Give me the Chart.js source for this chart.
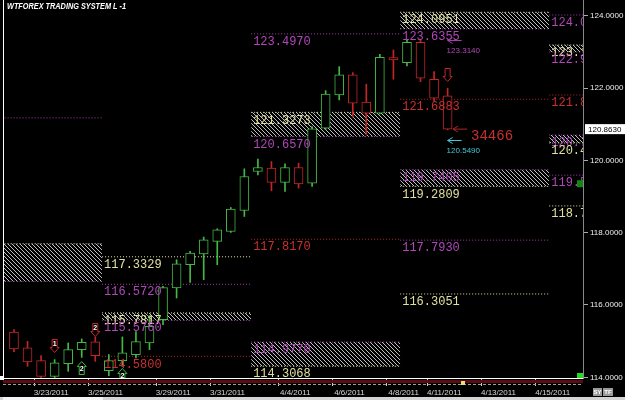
<!DOCTYPE html>
<html>
<head>
<meta charset="utf-8">
<script src="https://cdn.jsdelivr.net/npm/chart.js@4.4.1/dist/chart.umd.min.js"></script>
<style>
  html, body { margin: 0; padding: 0; background: #000; }
  #wrap { width: 625px; height: 400px; position: relative; overflow: hidden; }
</style>
</head>
<body>
<div id="wrap"><canvas id="chart" width="625" height="400"></canvas></div>
<script>
// candles, one slot per bar
const open  = [115.254,114.812,114.461,114.028,114.378,114.765,114.978,114.185,114.461,114.627,114.950,115.594,116.470,117.113,117.409,117.757,118.033,118.613,119.691,119.785,119.387,119.801,119.370,120.890,121.809,122.362,121.608,121.304,122.840,122.702,123.265,122.243,121.782];
const high  = [115.318,114.994,114.599,114.489,114.950,115.061,115.116,114.627,115.116,115.262,115.704,116.514,117.251,117.481,117.878,118.108,118.696,119.765,120.033,119.967,119.903,119.923,120.934,121.928,122.591,122.425,122.105,122.934,123.052,123.348,123.329,122.453,121.994];
const low   = [114.710,114.304,113.978,113.909,114.166,114.552,114.442,114.047,114.304,114.536,114.765,115.456,116.193,116.624,116.699,117.113,118.006,118.448,119.599,119.157,119.138,119.232,119.276,120.856,121.671,121.193,120.704,121.285,122.243,122.610,122.177,121.652,120.843];
const close = [114.785,114.425,114.028,114.398,114.765,114.967,114.599,114.461,114.674,114.986,115.409,116.478,117.141,117.436,117.804,118.080,118.652,119.552,119.801,119.387,119.801,119.351,120.870,121.829,122.362,121.580,121.304,122.851,122.776,123.265,122.271,121.718,120.863];

// date axis
const dateTicks  = [1.5, 5.5, 10.5, 14.5, 19.5, 23.5, 27.5, 30.5, 34.5, 38.5];
const dateLabels = ['3/23/2011','3/25/2011','3/29/2011','3/31/2011','4/4/2011','4/6/2011','4/8/2011','4/11/2011','4/13/2011','4/15/2011'];
const priceTicks = [114, 116, 118, 120, 122, 124];

// level periods (slot units)
const segStart = [-8, 6.5, 17.5, 28.5, 39.5];
const segEnd   = [6.5, 17.5, 28.5, 39.5, 44];

// single levels
const lineSeg   = [0, 1, 1, 1, 2, 2, 3, 3, 3, 4, 4, 4, 4];
const lineValue = [121.174, 117.3329, 116.572, 114.58, 123.497, 117.817, 121.6883, 117.793, 116.3051, 124.02, 121.807, 119.59, 118.74];
const lineKind  = ['p', 'y', 'p', 'r', 'p', 'r', 'r', 'p', 'y', 'p', 'r', 'p', 'y'];

// hatched zones
const zoneSeg       = [0, 1, 2, 2, 3, 3, 4, 4];
const zoneUpper     = [117.693, 115.7817, 121.3273, 114.977, 124.0951, 119.7405, 123.19, 120.70];
const zoneLower     = [116.652, 115.576, 120.657, 114.3068, 123.6355, 119.2809, 122.996, 120.48];
const zoneUpperKind = ['y', 'y', 'y', 'p', 'y', 'p', 'y', 'p'];
const zoneLowerKind = ['p', 'p', 'p', 'y', 'p', 'y', 'p', 'y'];

// signal arrows
const sigSlot  = [3, 6, 5, 8, 32];
const sigPrice = [114.866, 115.308, 114.257, 114.064, 122.36];
const sigUp    = [false, false, true, true, false];
const sigText  = ['1', '2', '2', '2', ''];

// pointer notes on the right
const ptrSlot  = [32, 32.4, 32];
const ptrPrice = [123.314, 120.863, 120.549];
const ptrText  = ['123.3140', '34466', '120.5490'];
const ptrKind  = ['p', 'r', 'c'];

const lineColor = { p: '#a040a8', y: '#e6e6a6', r: '#b02828', c: '#40c8d8' };
const textColor = { p: '#b048b8', y: '#e0e0a0', r: '#c83030', c: '#48c8d8' };
const GREEN = '#44b844', RED = '#c42626';
const lastClose = close[close.length - 1];

// hatch pattern
const pc = document.createElement('canvas');
pc.width = 4; pc.height = 4;
const pctx = pc.getContext('2d');
pctx.fillStyle = '#c0c0c0';
for (let i = 0; i < 4; i++) pctx.fillRect(i, i, 1, 1);
const hatch = pctx.createPattern(pc, 'repeat');

const candleColors = open.map((o, i) => close[i] >= o ? GREEN : RED);

let datasets = [];
lineValue.forEach((v, i) => {
    datasets.push({
        type: 'line',
        data: [{x: segStart[lineSeg[i]], y: v}, {x: segEnd[lineSeg[i]], y: v}],
        borderColor: lineColor[lineKind[i]], borderWidth: 1, borderDash: [1, 2],
        pointRadius: 0, fill: false, order: 5
    });
});
zoneUpper.forEach((u, i) => {
    let s = segStart[zoneSeg[i]], e = segEnd[zoneSeg[i]];
    datasets.push({
        type: 'line',
        data: [{x: s, y: u}, {x: e, y: u}],
        borderColor: lineColor[zoneUpperKind[i]], borderWidth: 1, borderDash: [1, 2],
        pointRadius: 0, fill: '+1', backgroundColor: hatch, order: 5
    });
    datasets.push({
        type: 'line',
        data: [{x: s, y: zoneLower[i]}, {x: e, y: zoneLower[i]}],
        borderColor: lineColor[zoneLowerKind[i]], borderWidth: 1, borderDash: [1, 2],
        pointRadius: 0, fill: false, order: 5
    });
});
datasets.push({
    type: 'bar',
    data: low.map((l, i) => ({x: i, y: [l, high[i]]})),
    backgroundColor: candleColors, borderWidth: 0,
    barThickness: 1, grouped: false, order: 2
});
datasets.push({
    type: 'bar',
    data: open.map((o, i) => ({x: i, y: [o, close[i]]})),
    backgroundColor: '#000', borderColor: candleColors, borderWidth: 1,
    borderSkipped: false, barThickness: 9, grouped: false, order: 1
});

function drawSignal(ctx, x, y, up, color, txt) {
    let d = up ? 1 : -1;
    ctx.beginPath();
    ctx.moveTo(x, y - 6.5 * d);
    ctx.lineTo(x + 4.5, y - 1.5 * d);
    ctx.lineTo(x + 2.5, y - 1.5 * d);
    ctx.lineTo(x + 2.5, y + 6.5 * d);
    ctx.lineTo(x - 2.5, y + 6.5 * d);
    ctx.lineTo(x - 2.5, y - 1.5 * d);
    ctx.lineTo(x - 4.5, y - 1.5 * d);
    ctx.closePath();
    ctx.fillStyle = '#000';
    ctx.fill();
    ctx.strokeStyle = color;
    ctx.lineWidth = 1;
    ctx.stroke();
    if (txt) {
        ctx.fillStyle = '#fff';
        ctx.font = 'bold 7px Arial';
        ctx.textAlign = 'center';
        ctx.textBaseline = 'middle';
        ctx.fillText(txt, x, y + 1.5 * d);
    }
}

function drawPointer(ctx, x, y, color) {
    ctx.strokeStyle = color;
    ctx.lineWidth = 1;
    ctx.beginPath();
    ctx.moveTo(x, y); ctx.lineTo(x + 14, y);
    ctx.moveTo(x + 5, y - 3); ctx.lineTo(x, y); ctx.lineTo(x + 5, y + 3);
    ctx.stroke();
}

const overlay = {
    id: 'overlay',
    afterDatasetsDraw(chart) {
        const {ctx, chartArea: a, scales: {x, y}} = chart;
        ctx.save();
        ctx.beginPath();
        ctx.rect(a.left, a.top, a.right - a.left, a.bottom - a.top);
        ctx.clip();
        ctx.font = '12px "Liberation Mono"';
        ctx.textBaseline = 'top';
        ctx.textAlign = 'left';
        const label = (v, seg, kind) => {
            ctx.fillStyle = textColor[kind];
            ctx.fillText(v.toFixed(4), x.getPixelForValue(segStart[seg]) + 2, y.getPixelForValue(v) + 2);
        };
        lineValue.forEach((v, i) => label(v, lineSeg[i], lineKind[i]));
        zoneUpper.forEach((v, i) => label(v, zoneSeg[i], zoneUpperKind[i]));
        zoneLower.forEach((v, i) => label(v, zoneSeg[i], zoneLowerKind[i]));

        sigSlot.forEach((s, i) => {
            drawSignal(ctx, x.getPixelForValue(s), y.getPixelForValue(sigPrice[i]), sigUp[i], sigUp[i] ? GREEN : RED, sigText[i]);
        });

        ptrSlot.forEach((s, i) => {
            let px = x.getPixelForValue(s), py = y.getPixelForValue(ptrPrice[i]);
            drawPointer(ctx, px, py, lineColor[ptrKind[i]]);
            ctx.fillStyle = textColor[ptrKind[i]];
            ctx.textAlign = 'left';
            ctx.textBaseline = 'middle';
            if (ptrKind[i] === 'r') {
                ctx.font = '14px "Liberation Mono"';
                ctx.fillText(ptrText[i], px + 18, py + 7);
            } else {
                ctx.font = '8px Arial';
                ctx.fillText(ptrText[i], px - 1, py + 10);
            }
        });
        ctx.restore();
    },
    afterDraw(chart) {
        const {ctx, chartArea: a, scales: {y}} = chart;
        ctx.save();
        // title
        ctx.font = 'bold italic 9px Arial';
        ctx.fillStyle = '#fff';
        ctx.textBaseline = 'middle';
        ctx.textAlign = 'left';
        const title = 'WTFOREX TRADING SYSTEM L -1';
        const w = ctx.measureText(title).width;
        ctx.translate(7, 7);
        ctx.scale(119 / w, 1);
        ctx.fillText(title, 0, 0);
        ctx.restore();

        ctx.save();
        // left border and corner mark
        ctx.fillStyle = '#fff';
        ctx.fillRect(a.left, 0, 1, a.bottom);
        ctx.fillRect(0, a.bottom - 2, 4, 4);
        // indicator strip under the price panel
        ctx.fillStyle = '#5a0c10';
        ctx.fillRect(a.left, a.bottom + 2, a.right - a.left, 3);
        ctx.strokeStyle = '#a0a090';
        ctx.setLineDash([3, 2]);
        ctx.beginPath();
        ctx.moveTo(a.left, a.bottom + 6.5); ctx.lineTo(a.right, a.bottom + 6.5);
        ctx.stroke();
        ctx.setLineDash([]);
        ctx.fillStyle = '#e8e070';
        ctx.fillRect(461, a.bottom + 3, 4, 4);
        // green markers at the right edge
        ctx.fillStyle = '#22dd22';
        ctx.fillRect(a.right - 6, a.bottom - 5, 6, 5);
        ctx.fillStyle = '#118811';
        ctx.fillRect(a.right - 6, y.getPixelForValue(119.45), 6, 7);
        // last price box
        const py = y.getPixelForValue(lastClose);
        ctx.fillStyle = '#fff';
        ctx.fillRect(a.right + 2, py - 5, 40, 10);
        ctx.fillStyle = '#000';
        ctx.font = '8px Arial';
        ctx.textAlign = 'left';
        ctx.textBaseline = 'middle';
        ctx.fillText(lastClose.toFixed(4), a.right + 5, py + 0.5);
        // SY / TF buttons
        ctx.fillStyle = '#9a9a9a';
        ctx.fillRect(593, 388, 9, 8);
        ctx.fillRect(603, 388, 10, 8);
        ctx.fillStyle = '#fff';
        ctx.font = 'bold 6px Arial';
        ctx.textAlign = 'center';
        ctx.fillText('SY', 597.5, 392.5);
        ctx.fillText('TF', 608, 392.5);
        // scroll bar at the bottom
        ctx.fillStyle = '#d4d4d4';
        ctx.fillRect(0, 397, 625, 3);
        ctx.fillStyle = '#f4f4f4';
        ctx.fillRect(3, 397, 100, 3);
        ctx.restore();
    }
};

const ctx = document.getElementById('chart').getContext('2d');
const myChart = new Chart(ctx, {
    type: 'bar',
    data: { datasets: datasets },
    options: {
        responsive: false,
        animation: false,
        layout: { padding: { left: 3, right: 0, top: 0, bottom: 0 } },
        plugins: { legend: { display: false }, tooltip: { enabled: false } },
        scales: {
            x: {
                type: 'linear', min: -0.81, max: 41.99, offset: false,
                afterBuildTicks: s => { s.ticks = dateTicks.map(v => ({value: v})); },
                afterFit: s => { s.height = 22; s.paddingLeft = 0; s.paddingRight = 0; },
                grid: { drawOnChartArea: false, offset: false, tickLength: 8, color: '#cccccc' },
                border: { color: '#ffffff' },
                ticks: {
                    color: '#d8d8d8', font: { family: 'Arial', size: 8 },
                    labelOffset: 17, padding: 2, maxRotation: 0, autoSkip: false,
                    callback: (v, i) => dateLabels[i]
                }
            },
            y: {
                position: 'right', min: 113.981, max: 124.434,
                afterBuildTicks: s => { s.ticks = priceTicks.map(v => ({value: v})); },
                afterFit: s => { s.width = 42; s.paddingTop = 0; s.paddingBottom = 0; },
                grid: { drawOnChartArea: false, tickLength: 5, color: '#aaaaaa' },
                border: { color: '#888888' },
                ticks: {
                    color: '#eeeeee', font: { family: 'Arial', size: 8 }, padding: 2,
                    callback: v => Number(v).toFixed(4)
                }
            }
        }
    },
    plugins: [overlay]
});
</script>
</body>
</html>
